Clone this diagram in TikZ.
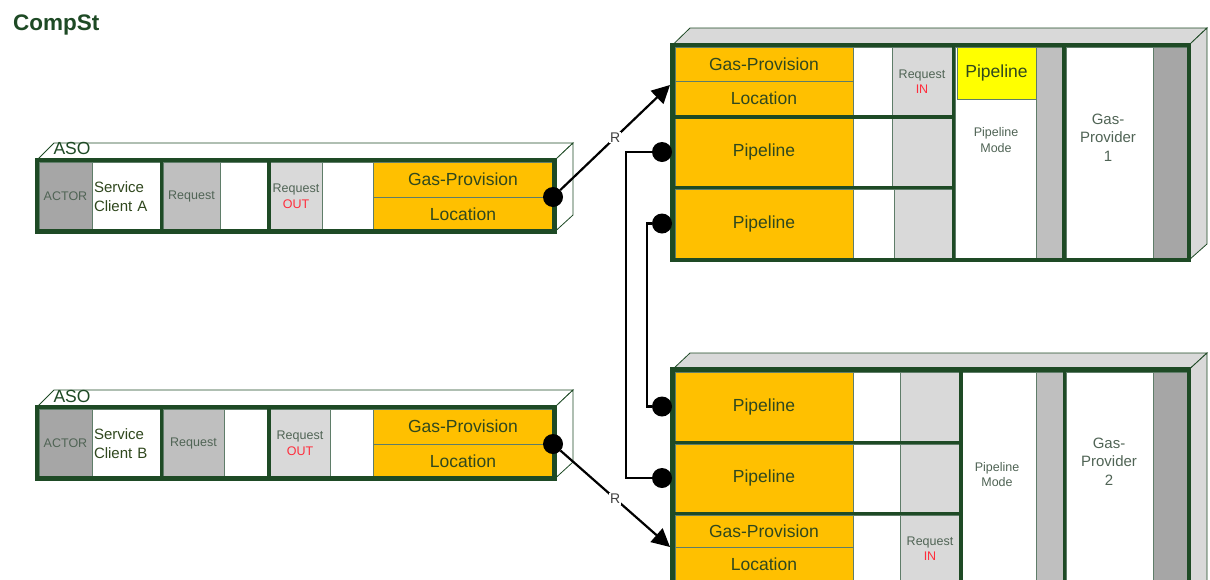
\documentclass[tikz,border=0pt]{standalone}
\usepackage{fontspec}
\setmainfont{Liberation Sans}
\usetikzlibrary{arrows.meta,positioning}
\definecolor{dkgreen}{RGB}{30,74,37}
\definecolor{cellline}{RGB}{95,125,105}
\definecolor{txtgreen}{RGB}{48,72,30}
\definecolor{txtgray}{RGB}{80,100,85}
\definecolor{orng}{RGB}{255,192,0}
\definecolor{yell}{RGB}{255,255,0}
\definecolor{dkgray}{RGB}{166,166,166}
\definecolor{mdgray}{RGB}{191,191,191}
\definecolor{ltgray}{RGB}{217,217,217}
\definecolor{outred}{RGB}{255,45,60}
\tikzset{>=Stealth,
  cell/.style={draw=cellline,line width=0.8pt,inner sep=0pt,outer sep=0pt,anchor=north west,align=center,text=txtgreen},
  sz/.style 2 args={minimum width=#1pt,minimum height=#2pt},
  bigtxt/.style={font=\fontsize{17.5}{19}\selectfont},
  midtxt/.style={font=\fontsize{15}{18.5}\selectfont},
  smalltxt/.style={font=\fontsize{12.5}{15.5}\selectfont,text=txtgray},
  thickline/.style={draw=dkgreen,line width=3.5pt},
  boxframe/.style={draw=dkgreen,line width=4.5pt},
  face/.style={draw=dkgreen,line width=0.8pt},
  port/.style={circle,fill=black,minimum size=20pt,inner sep=0pt,outer sep=0pt},
  conn/.style={line width=2.2pt},
  flowlabel/.style={fill=white,inner sep=1pt,font=\fontsize{14}{14}\selectfont,text=black!75}}
\newcommand{\reqout}{Request\\\textcolor{outred}{OUT}}
\newcommand{\reqin}{Request\\\textcolor{outred}{IN}}

\begin{document}
\begin{tikzpicture}[x=1pt,y=-1pt]
\useasboundingbox (0,0) rectangle (1210,579);
\clip (0,0) rectangle (1210,579);
\node[anchor=west,inner sep=0pt,font=\bfseries\fontsize{22.5}{24}\selectfont,text=dkgreen] (title) at (13,25) {CompSt};

% ASO, client A
\filldraw[face,fill=white] (37,160)--(54,143)--(573,143)--(555,160)--cycle;
\filldraw[face,fill=white] (555,160)--(573,143)--(573,215)--(555,231.5)--cycle;
\node[bigtxt,text=dkgreen] (asoA) at (72,148) {ASO};
\node[cell,smalltxt,fill=dkgray,sz={53}{69}] (actA) at (39,162) {ACTOR};
\node[cell,midtxt,fill=white,sz={68}{69},text width=64pt,align=left] (cliA) at (92,162) {Service\\Client A};
\node[cell,smalltxt,fill=mdgray,sz={57}{69}] (reqA) at (163,162) {Request};
\node[cell,fill=white,sz={48}{69}] (wA1) at (220,162) {};
\node[cell,smalltxt,fill=ltgray,sz={52}{69}] (outA) at (270,162) {\reqout};
\node[cell,fill=white,sz={51}{69}] (wA2) at (322,162) {};
\node[cell,bigtxt,fill=orng,sz={180}{35}] (gpA) at (373,162) {Gas-Provision};
\node[cell,bigtxt,fill=orng,sz={180}{34}] (locA) at (373,197) {Location};
\draw[thickline] (161.5,160)--(161.5,231.5) (269,160)--(269,231.5);
\draw[boxframe] (37,160) rectangle (554.5,231.5);
\node[port] (pA) at (gpA.south east) {};

% ASO, client B
\filldraw[face,fill=white] (37,407)--(54,390)--(573,390)--(555,407)--cycle;
\filldraw[face,fill=white] (555,407)--(573,390)--(573,462)--(555,478.5)--cycle;
\node[bigtxt,text=dkgreen] (asoB) at (72,396) {ASO};
\node[cell,smalltxt,fill=dkgray,sz={53}{69}] (actB) at (39,409) {ACTOR};
\node[cell,midtxt,fill=white,sz={68}{69},text width=64pt,align=left] (cliB) at (92,409) {Service\\Client B};
\node[cell,smalltxt,fill=mdgray,sz={61}{69}] (reqB) at (163,409) {Request};
\node[cell,fill=white,sz={44}{69}] (wB1) at (224,409) {};
\node[cell,smalltxt,fill=ltgray,sz={60}{69}] (outB) at (270,409) {\reqout};
\node[cell,fill=white,sz={43}{69}] (wB2) at (330,409) {};
\node[cell,bigtxt,fill=orng,sz={180}{35}] (gpB) at (373,409) {Gas-Provision};
\node[cell,bigtxt,fill=orng,sz={180}{34}] (locB) at (373,444) {Location};
\draw[thickline] (161.5,407)--(161.5,478.5) (269,407)--(269,478.5);
\draw[boxframe] (37,407) rectangle (554.5,478.5);
\node[port] (pB) at (gpB.south east) {};

% provider 1
\filldraw[face,fill=ltgray] (672.5,45)--(690,28)--(1207,28)--(1189,45)--cycle;
\filldraw[face,fill=ltgray] (1189,45)--(1207,28)--(1207,244)--(1189,260)--cycle;
\node[cell,bigtxt,fill=orng,sz={178}{34}] (gp1) at (675,47) {Gas-Provision};
\node[cell,bigtxt,fill=orng,sz={178}{35}] (loc1) at (675,81) {Location};
\node[cell,fill=white,sz={39}{69}] (w11) at (853,47) {};
\node[cell,smalltxt,fill=ltgray,sz={60}{69}] (rin1) at (892,47) {\reqin};
\node[cell,bigtxt,fill=orng,sz={178}{68}] (pl1a) at (675,118) {Pipeline};
\node[cell,fill=white,sz={39}{68}] (w12) at (853,118) {};
\node[cell,fill=ltgray,sz={60}{68}] (g12) at (892,118) {};
\node[cell,bigtxt,fill=orng,sz={178}{69}] (pl1b) at (675,189) {Pipeline};
\node[cell,fill=white,sz={41}{69}] (w13) at (853,189) {};
\node[cell,fill=ltgray,sz={58}{69}] (g13) at (894,189) {};
\node[cell,fill=white,sz={81}{211}] (pm1) at (955,47) {};
\node[cell,bigtxt,fill=yell,sz={79}{52}] (yel1) at (957,47) {Pipeline};
\node[smalltxt,align=center] (pm1t) at (996,140) {Pipeline\\Mode};
\node[cell,fill=mdgray,sz={26}{211}] (g14) at (1036,47) {};
\node[cell,fill=white,sz={87}{211}] (gpc1) at (1066,47) {};
\node[midtxt,text=txtgray,align=center] (gpc1t) at (1108,137.5) {Gas-\\Provider\\1};
\node[cell,fill=dkgray,sz={34}{211}] (dk1) at (1153,47) {};
\draw[thickline] (672.5,117)--(953.5,117) (672.5,187.5)--(953.5,187.5);
\draw[thickline] (953.5,45)--(953.5,260) (1064,45)--(1064,260);
\draw[boxframe] (672.5,45) rectangle (1189,260);

% provider 2
\filldraw[face,fill=ltgray] (672.5,369.5)--(690,353)--(1207,353)--(1189,369.5)--cycle;
\filldraw[face,fill=ltgray] (1189,369.5)--(1207,353)--(1207,600)--(1189,616)--cycle;
\node[cell,bigtxt,fill=orng,sz={178}{69}] (pl2a) at (675,372) {Pipeline};
\node[cell,fill=white,sz={47}{69}] (w21) at (853,372) {};
\node[cell,fill=ltgray,sz={60}{69}] (g21) at (900,372) {};
\node[cell,bigtxt,fill=orng,sz={178}{68}] (pl2b) at (675,444) {Pipeline};
\node[cell,fill=white,sz={47}{68}] (w22) at (853,444) {};
\node[cell,fill=ltgray,sz={60}{68}] (g22) at (900,444) {};
\node[cell,bigtxt,fill=orng,sz={178}{32}] (gp2) at (675,515) {Gas-Provision};
\node[cell,bigtxt,fill=orng,sz={178}{35}] (loc2) at (675,547) {Location};
\node[cell,fill=white,sz={47}{67}] (w23) at (853,515) {};
\node[cell,smalltxt,fill=ltgray,sz={60}{67}] (rin2) at (900,515) {\reqin};
\node[cell,fill=white,sz={74}{228}] (pm2) at (962,372) {};
\node[smalltxt,align=center] (pm2t) at (997,474.5) {Pipeline\\Mode};
\node[cell,fill=mdgray,sz={27}{228}] (g24) at (1036,372) {};
\node[cell,fill=white,sz={87}{228}] (gpc2) at (1066,372) {};
\node[midtxt,text=txtgray,align=center] (gpc2t) at (1109,461.5) {Gas-\\Provider\\2};
\node[cell,fill=dkgray,sz={34}{228}] (dk2) at (1153,372) {};
\draw[thickline] (672.5,442.5)--(961,442.5) (672.5,513.5)--(961,513.5);
\draw[thickline] (961,369.5)--(961,600) (1064.5,369.5)--(1064.5,600);
\draw[boxframe] (672.5,369.5) rectangle (1189,600);

% ports and links
\node[port,anchor=east] (q1a) at ([xshift=-3pt]pl1a.west) {};
\node[port,anchor=east] (q1b) at ([xshift=-3pt]pl1b.west) {};
\node[port,anchor=east] (q2a) at ([xshift=-3pt]pl2a.west) {};
\node[port,anchor=east] (q2b) at ([xshift=-3pt]pl2b.west) {};
\draw[conn] (q1a.west) -- ++(-26,0) |- (q2b.west);
\draw[conn] (q1b.west) -- ++(-5,0) |- (q2a.west);
\coordinate (inA) at ([xshift=-5pt,yshift=-4pt]loc1.north west);
\coordinate (inB) at ([xshift=-5pt]gp2.south west);
\draw[conn,-{Triangle[length=18pt,width=18pt]}] (pA) -- (inA) node[flowlabel,midway] {R};
\draw[conn,-{Triangle[length=18pt,width=18pt]}] (pB) -- (inB) node[flowlabel,midway] {R};
\end{tikzpicture}
\end{document}
